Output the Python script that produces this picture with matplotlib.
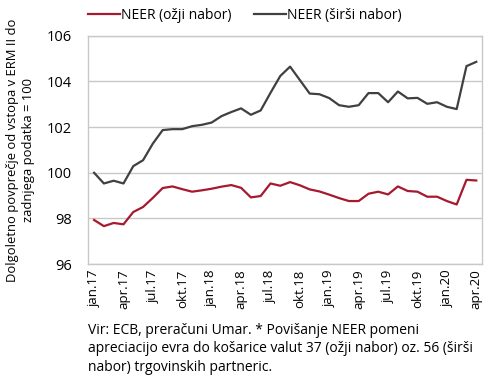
import matplotlib
matplotlib.use('Agg')
import matplotlib.pyplot as plt
import pandas as pd

plt.rcParams['font.family'] = ['Open Sans', 'DejaVu Sans']

# mesecni podatki jan.2017 - apr.2020
meseci = pd.date_range('2017-01-01', '2020-04-01', freq='MS')

neer_ozji = [97.93, 97.66, 97.80, 97.74, 98.28, 98.50, 98.90, 99.33, 99.40, 99.28,
             99.17, 99.23, 99.30, 99.39, 99.46, 99.34, 98.92, 98.98, 99.53, 99.43,
             99.59, 99.45, 99.27, 99.18, 99.04, 98.89, 98.76, 98.76, 99.08, 99.17,
             99.05, 99.40, 99.20, 99.17, 98.95, 98.95, 98.76, 98.61, 99.69, 99.66]

neer_sirsi = [100.00, 99.53, 99.65, 99.53, 100.29, 100.55, 101.28, 101.87, 101.91, 101.91,
              102.04, 102.10, 102.20, 102.48, 102.66, 102.82, 102.54, 102.73, 103.50, 104.24,
              104.65, 104.06, 103.47, 103.44, 103.27, 102.96, 102.89, 102.96, 103.49, 103.49,
              103.09, 103.56, 103.26, 103.28, 103.02, 103.09, 102.89, 102.79, 104.67, 104.86]

mesec_ime = {1: 'jan', 4: 'apr', 7: 'jul', 10: 'okt'}
tick_idx = list(range(0, len(meseci), 3))
tick_labels = [f"{mesec_ime[meseci[i].month]}.{meseci[i].strftime('%y')}" for i in tick_idx]

fig = plt.figure(figsize=(4.9, 3.81), dpi=100)
ax = fig.add_axes([0.18, 0.307, 0.804, 0.599])

x = list(range(len(meseci)))
ax.plot(x, neer_ozji, color='#a6192e', lw=1.6, label='NEER (ožji nabor)')
ax.plot(x, neer_sirsi, color='#404040', lw=1.6, label='NEER (širši nabor)')

ax.set_xlim(-0.6, len(meseci) - 0.4)
ax.set_ylim(96, 106)
ax.set_yticks([96, 98, 100, 102, 104, 106])
ax.set_xticks(tick_idx)
ax.set_xticklabels(tick_labels, rotation=90, fontsize=9.5)
ax.tick_params(axis='y', labelsize=10.5, length=0, pad=12)
ax.tick_params(axis='x', length=0, pad=4)
ax.grid(axis='y', color='#c8c8c8', lw=1)
ax.set_axisbelow(True)
for s in ax.spines.values():
    s.set_color('#c8c8c8')
    s.set_linewidth(1)

ax.set_ylabel('Dolgoletno povprečje od vstopa v ERM II do\nzadnjega podatka = 100',
              fontsize=9.4, labelpad=8, linespacing=1.3)

# legenda je centrirana na sliko, ne na os
fig.legend(loc='center', bbox_to_anchor=(0.5, 0.96), ncol=2, frameon=False,
           fontsize=10, handlelength=2.3, handletextpad=0.1, columnspacing=1.6,
           borderaxespad=0)

fig.text(0.18, 0.152,
         'Vir: ECB, preračuni Umar. * Povišanje NEER pomeni\n'
         'apreciacijo evra do košarice valut 37 (ožji nabor) oz. 56 (širši\n'
         'nabor) trgovinskih partneric.',
         fontsize=10, va='top', ha='left', linespacing=1.3)

fig.savefig('out.png', dpi=100)
